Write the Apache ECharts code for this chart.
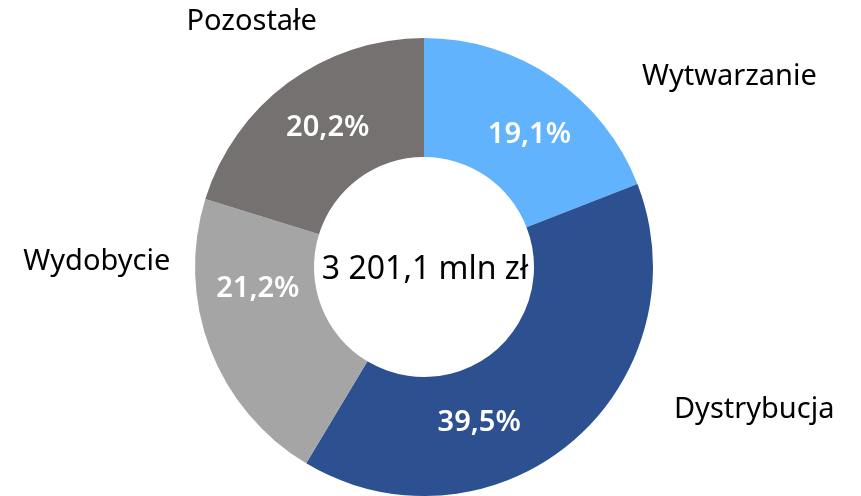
<!DOCTYPE html>
<html>
<head>
<meta charset="utf-8">
<script src="https://cdn.jsdelivr.net/npm/echarts@6/dist/echarts.min.js"></script>
<style>
  html, body { margin: 0; padding: 0; background: #fff; }
  #chart { width: 861px; height: 496px; }
</style>
</head>
<body>
<div id="chart"></div>
<script>
// data
var categories = ['Wytwarzanie', 'Dystrybucja', 'Wydobycie', 'Pozostałe'];
var shares = [19.1, 39.5, 21.2, 20.2];
var totalText = '3 201,1 mln zł';

// label shifts (px) from the slice's mid point, as placed in the original
var pctShift = [[8, 10], [-56, 24], [-5, -40], [6, 0]];
var nameShift = [[208, -48], [219, 11], [-166, -67], [-70, -106]];

var colors = ['#61B3FE', '#2D5090', '#A5A5A5', '#767171'];
var font = '"Noto Sans", "Open Sans", sans-serif';

var chart = echarts.init(document.getElementById('chart'));

var pieData = categories.map(function(name, i) {
	return { name: name, value: shares[i], itemStyle: { color: colors[i] } };
});

var option = {
	animation: false,
	graphic: [{
		type: 'text',
		x: 425,
		y: 270,
		style: {
			text: totalText,
			font: '32px ' + font,
			fill: '#000',
			align: 'center',
			verticalAlign: 'middle'
		}
	}],
	series: [
		{
			// slices with the percent labels
			name: 'udzial',
			type: 'pie',
			center: [424, 267],
			radius: [110, 229],
			startAngle: 90,
			clockwise: true,
			data: pieData,
			itemStyle: { borderWidth: 0 },
			label: {
				show: true,
				position: 'inside',
				color: '#fff',
				fontFamily: font,
				fontSize: 29,
				fontWeight: 600,
				formatter: function(p) {
					return p.value.toFixed(1).replace('.', ',') + '%';
				}
			},
			labelLine: { show: false },
			labelLayout: function(p) {
				var s = pctShift[p.dataIndex];
				return { dx: s[0], dy: s[1] };
			},
			emphasis: { disabled: true }
		},
		{
			// transparent copy, only carries the category names
			name: 'nazwy',
			type: 'pie',
			center: [424, 267],
			radius: [110, 229],
			startAngle: 90,
			clockwise: true,
			silent: true,
			z: 3,
			data: categories.map(function(name, i) {
				return { name: name, value: shares[i] };
			}),
			itemStyle: { color: 'rgba(0,0,0,0)' },
			label: {
				show: true,
				position: 'inside',
				color: '#000',
				fontFamily: font,
				fontSize: 29,
				formatter: '{b}'
			},
			labelLine: { show: false },
			labelLayout: function(p) {
				var s = nameShift[p.dataIndex];
				return { dx: s[0], dy: s[1] };
			},
			emphasis: { disabled: true }
		}
	]
};

chart.setOption(option);
</script>
</body>
</html>
